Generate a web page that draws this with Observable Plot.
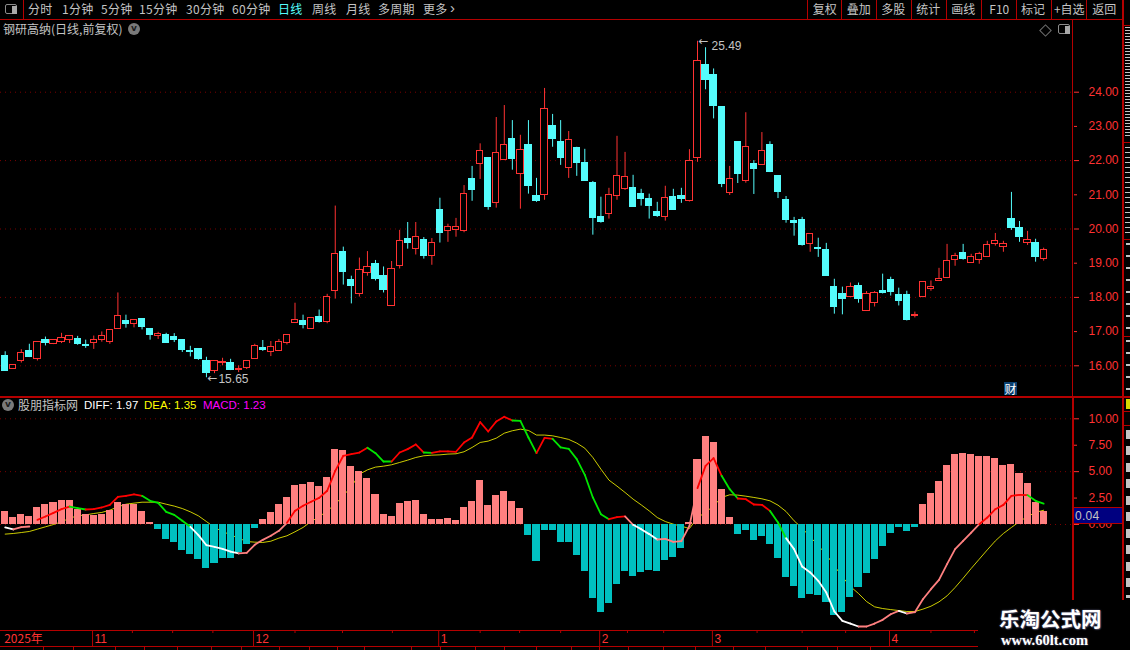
<!DOCTYPE html>
<html lang="zh">
<head>
<meta charset="utf-8">
<title>钢研高纳 日线</title>
<script src="https://cdn.jsdelivr.net/npm/d3@7"></script>
<script src="https://cdn.jsdelivr.net/npm/@observablehq/plot@0.6"></script>
<style>
html,body{margin:0;padding:0;background:#000;width:1130px;height:650px;overflow:hidden}
#app{position:relative;width:1130px;height:650px;background:#000;overflow:hidden;font:12px "Noto Sans CJK SC","Liberation Sans",sans-serif;color:#c4c4c4}
#app>*{position:absolute}
#app svg{display:block;background:transparent}
.t{white-space:nowrap;line-height:14px}
.c{transform:translateX(-50%)}
</style>
</head>
<body>
<div id="app"></div>
<script>
// ---------- price data (yuan) ----------
const openP = [16.29,15.91,16.14,16.42,16.20,16.75,16.65,16.70,16.76,16.77,16.60,16.67,16.76,16.69,17.08,17.31,17.23,17.36,17.07,16.88,
16.89,16.85,16.75,16.43,16.48,16.13,15.84,16.09,16.07,15.88,15.93,16.20,16.51,16.40,16.44,16.68,17.25,17.30,17.08,17.42,
17.28,18.19,19.32,18.51,18.11,18.72,18.97,18.62,17.76,18.92,19.70,19.42,19.67,19.22,20.55,19.95,19.97,19.95,21.45,21.90,
22.07,20.76,22.02,22.62,21.61,22.47,20.96,21.00,23.00,22.53,21.78,22.36,21.92,21.34,20.34,20.44,20.97,21.17,21.19,21.02,
20.87,20.49,20.35,20.93,20.96,20.83,22.07,24.80,24.50,23.57,21.05,22.55,21.40,21.91,21.86,22.47,21.56,20.86,20.22,20.25,
19.56,19.44,19.38,18.30,18.10,18.01,18.33,17.61,17.84,18.18,18.50,18.07,18.07,17.47,18.02,18.25,18.49,18.57,19.10,19.29,
19.02,19.10,19.18,19.57,19.46,20.28,20.02,19.59,19.58,19.13];
const closeP = [15.86,16.03,16.38,16.27,16.71,16.67,16.74,16.82,16.88,16.64,16.58,16.76,16.88,17.06,17.47,17.22,17.35,17.13,16.89,16.94,
16.66,16.76,16.46,16.41,16.19,15.78,16.15,16.11,15.89,15.90,16.15,16.59,16.46,16.56,16.71,16.91,17.35,17.20,17.41,17.27,
18.00,19.28,18.74,18.33,18.79,18.88,18.54,18.21,18.82,19.66,19.59,19.78,19.21,19.58,19.88,20.07,20.07,21.01,21.13,22.29,
20.64,22.23,22.47,22.04,22.32,21.25,20.81,23.52,22.62,22.07,22.61,21.92,21.39,20.32,20.20,20.98,21.56,21.53,20.64,20.87,
20.67,20.37,20.92,20.55,20.87,21.99,24.90,24.36,23.60,21.33,21.47,21.62,22.40,21.74,22.28,21.68,21.07,20.25,20.17,19.52,
19.86,19.41,18.62,17.72,17.95,18.29,17.95,18.09,18.12,18.13,18.16,17.89,17.34,17.50,18.44,18.29,18.53,19.05,19.22,19.12,
19.17,19.28,19.54,19.66,19.57,20.02,19.76,19.69,19.17,19.40];
const highP = [16.41,16.03,16.47,16.63,16.71,16.84,16.76,16.95,16.88,16.86,16.75,16.87,16.99,17.06,18.13,17.48,17.35,17.36,17.07,16.98,
16.95,16.94,16.76,16.57,16.49,16.25,16.15,16.22,16.19,16.00,16.15,16.63,16.74,16.71,16.77,16.91,17.83,17.48,17.41,17.63,
18.09,20.67,19.47,18.62,19.15,19.34,19.08,18.89,19.05,19.96,20.19,20.19,19.75,19.72,20.90,20.14,20.31,21.27,21.83,22.49,
22.09,23.26,23.61,23.17,22.74,23.17,21.48,24.11,23.35,23.17,22.85,22.39,22.33,21.39,20.93,21.19,22.71,22.24,21.57,21.16,
21.02,20.78,21.25,21.16,21.19,22.32,25.49,25.30,24.68,23.57,21.83,22.55,23.40,22.00,22.82,22.55,21.56,20.95,20.34,20.34,
19.86,19.73,19.58,18.53,18.30,18.42,18.42,18.17,18.17,18.68,18.59,18.27,18.18,17.57,18.44,18.48,18.85,19.55,19.29,19.55,
19.26,19.32,19.64,19.87,19.64,21.07,20.22,19.93,19.70,19.44];
const lowP = [15.86,15.91,16.08,16.24,16.14,16.58,16.62,16.65,16.65,16.60,16.51,16.48,16.69,16.63,17.08,17.10,17.11,17.05,16.75,16.77,
16.66,16.68,16.39,16.26,16.16,15.65,15.77,16.00,15.86,15.80,15.89,16.20,16.42,16.27,16.42,16.61,17.25,17.08,17.08,17.25,
17.23,17.95,18.36,17.81,18.01,18.62,18.48,18.13,17.76,18.83,19.41,19.24,19.12,18.94,19.59,19.61,19.76,19.89,20.81,21.45,
20.55,20.61,22.00,21.72,20.58,21.02,20.78,20.84,22.39,21.86,21.48,21.54,21.39,19.82,20.17,20.29,20.84,21.13,20.64,20.67,
20.29,20.34,20.23,20.55,20.75,20.79,21.95,24.07,23.22,21.21,20.98,21.33,21.34,21.01,21.86,21.65,20.89,20.17,19.79,19.50,
19.32,19.17,18.62,17.51,17.49,18.01,17.83,17.61,17.72,18.10,18.04,17.75,17.31,17.40,17.99,18.18,18.49,18.55,18.91,19.09,
19.01,18.97,19.18,19.50,19.32,19.96,19.61,19.52,19.03,19.06];

// ---------- indicator data ----------
const macdBar = [1.20,0.63,0.91,0.73,1.58,1.86,2.05,2.24,2.24,1.40,0.91,0.82,0.91,1.29,2.05,1.86,1.86,1.20,0.16,-0.50,
-1.45,-1.74,-2.49,-2.87,-3.34,-4.20,-3.72,-3.25,-3.25,-2.68,-1.92,-0.41,0.44,1.10,1.86,2.52,3.66,3.75,3.94,3.56,
4.42,7.07,6.97,5.46,4.98,4.32,2.81,0.91,0.73,1.96,2.15,2.24,0.91,0.44,0.44,0.54,0.35,1.58,2.15,4.13,
1.77,2.71,3.09,2.15,1.48,-1.07,-3.53,-0.60,-0.60,-1.74,-1.74,-2.97,-4.48,-7.03,-8.36,-7.50,-5.70,-4.48,-4.95,-4.57,
-4.38,-4.48,-3.44,-3.15,-2.30,0.20,6.12,8.30,7.73,3.28,0.63,-0.95,-0.60,-1.55,-1.17,-1.92,-3.25,-5.05,-5.90,-7.03,
-6.66,-6.75,-7.41,-8.64,-8.36,-6.94,-5.99,-4.67,-3.34,-2.11,-0.88,-0.32,-0.69,-0.32,1.86,2.90,4.04,5.55,6.59,6.69,
6.59,6.40,6.40,6.21,5.55,5.65,4.79,3.85,2.05,1.20];
const diff = [-0.28,-0.47,-0.25,-0.19,0.44,0.76,1.10,1.45,1.70,1.55,1.42,1.45,1.61,1.86,2.62,2.71,2.84,2.71,2.24,2.05,
1.20,0.91,0.35,-0.22,-1.01,-1.96,-2.11,-2.30,-2.56,-2.74,-2.68,-1.92,-1.45,-1.07,-0.60,0.16,1.29,1.77,2.15,2.52,
3.19,5.08,6.50,6.66,6.81,7.26,6.75,5.96,5.96,6.81,7.13,7.57,6.81,6.78,6.91,6.91,6.88,7.76,8.23,9.69,
8.80,9.75,10.19,9.84,9.81,8.23,6.75,8.20,8.11,7.29,7.16,6.18,4.70,2.56,0.98,0.50,0.69,0.76,-0.03,-0.44,
-0.91,-1.42,-1.36,-1.64,-1.58,-0.13,3.44,5.55,6.28,4.61,3.34,2.46,2.40,1.89,1.86,1.29,0.19,-1.29,-2.33,-3.98,
-4.54,-5.33,-6.44,-8.23,-9.12,-9.37,-9.65,-9.65,-9.37,-9.02,-8.49,-8.17,-8.42,-8.30,-7.07,-6.12,-5.24,-3.75,-2.33,-1.55,
-0.76,0.03,0.66,1.45,1.86,2.71,2.81,2.78,2.24,1.97];
const dea = [-0.91,-0.85,-0.76,-0.66,-0.44,-0.22,0,0.25,0.60,0.82,0.91,1.04,1.14,1.36,1.67,1.92,2.02,2.11,2.11,2.11,
1.92,1.74,1.51,1.20,0.82,0.28,-0.28,-0.66,-0.98,-1.29,-1.61,-1.67,-1.70,-1.58,-1.29,-1.07,-0.69,-0.28,0.28,0.73,
1.29,1.92,2.74,3.57,4.76,5.17,5.43,5.52,5.65,5.87,6.09,6.34,6.50,6.56,6.59,6.66,6.69,6.88,7.29,7.76,
7.89,8.17,8.64,8.87,9.02,8.90,8.46,8.46,8.39,8.23,8.05,7.70,7.22,6.34,5.24,4.20,3.63,3.03,2.40,1.86,
1.29,0.66,0.28,0.03,-0.16,-0.38,0.66,1.14,1.77,2.56,2.81,2.78,2.68,2.56,2.43,2.24,1.83,1.23,0.35,-0.35,
-1.17,-1.99,-2.84,-3.91,-4.95,-5.87,-6.53,-7.29,-7.79,-7.95,-8.05,-8.14,-8.23,-8.23,-8.01,-7.73,-7.32,-6.75,-5.96,-5.08,
-4.16,-3.28,-2.40,-1.55,-0.85,-0.28,0.28,0.76,1.14,1.35];
// tone of the DIFF segment that ends at each index (- = no segment)
const diffTone = "WWPP- RRRR GG RRRRRRR GGGGGG WWWWWW PPPPPP RRRRRRRRRR GGG RRRR G RRRRRRRRRR GGG RR GGGGGGG RR P WWW PPPPP RRR GG RRRR GG WWWWWWWWW PPPPP W PPPPPPPPP RRRRRR GG".replace(/ /g,"");
const toneColor = {R:"#ff0000",G:"#00e600",W:"#ffffff",P:"#ff8080"};

// ---------- axes ----------
const priceMajor = [24,22,20,18,16];
const priceMinor = [23,21,19,17];
const macdMajor = [10,5,0];
const macdMinor = [7.5,2.5];
const monthTicks = [{i:10.85,label:"11"},{i:30.85,label:"12"},{i:53.85,label:"1"},{i:73.85,label:"2"},{i:87.85,label:"3"},{i:109.85,label:"4"}];
const weekTicks = [15.8,20.8,25.8,36,41.9,48.1,59,63.9,69,77.3,81.8,93.4,99,104.4,115,120.4];
const highMark = [{i:86,p:25.49,label:"25.49"}];
const lowMark = [{i:25,p:15.65,label:"15.65"}];

// ---------- text ----------
const leftTabs = [["分时",28],["1分钟",62],["5分钟",101],["15分钟",139],["30分钟",186],["60分钟",232],["日线",278],["周线",312],["月线",346],["多周期",378],["更多",423]];
const rightTabs = [["复权",824.7],["叠加",858.7],["多股",893.3],["统计",928.3],["画线",963.3],["F10",999.3],["标记",1033],["+自选",1069.3],["返回",1104.3]];
const rightSeps = [807,841,876,911,946,981,1016,1051,1086];
const bottomSeps = [43,73,115,144,177,211,241,279,309,337,364,411,440,475,504,536,571,599,628,663,695,733,765,807,837,870];

const RED="#ff3232", CYAN="#54fcfc", LINE="#b40000", GRID="#7a0000";
const idx = d3.range(openP.length);
const xScale = {domain:[0,129],range:[4.7,1043.15],axis:null};
const app = document.getElementById("app");
function place(node,left,top){node.style.left=left+"px";node.style.top=top+"px";app.appendChild(node);return node;}
function div(left,top,w,h,bg){const d=document.createElement("div");d.style.width=w+"px";d.style.height=h+"px";d.style.background=bg;return place(d,left,top);}
function text(s,left,top,css){const d=document.createElement("div");d.className="t";d.textContent=s;if(css)d.style.cssText=css;return place(d,left,top);}
const digit='font-family:"Liberation Sans",sans-serif;';

// ---------- candlestick panel ----------
const isUp = i => closeP[i] >= openP[i];
const colorOf = i => isUp(i) ? RED : CYAN;
const priceFmt = d => d.toFixed(2);
const gray = {fill:"#c4c4c4",fontSize:12,fontFamily:"Liberation Sans"};
const candle = Plot.plot({
  width:1130,height:397,marginTop:0,marginBottom:0,marginLeft:0,marginRight:57,
  style:{background:"transparent"},
  x:xScale,
  y:{domain:[16,24],range:[365.3,91.7]},
  marks:[
    Plot.ruleY(priceMajor,{stroke:GRID,strokeDasharray:"1,4"}),
    Plot.ruleX(idx,{x:i=>i,y1:i=>lowP[i],y2:i=>highP[i],stroke:colorOf,strokeWidth:1}),
    Plot.rect(idx,{x1:i=>i-0.39,x2:i=>i+0.39,y1:i=>openP[i],y2:i=>closeP[i],
      fill:i=>isUp(i)?"#000":CYAN,stroke:colorOf,strokeWidth:1,shapeRendering:"crispEdges"}),
    Plot.text(highMark,{x:"i",y:"p",text:"label",dx:14,dy:5,textAnchor:"start",...gray}),
    Plot.text(lowMark,{x:"i",y:"p",text:"label",dx:12,dy:1,textAnchor:"start",...gray}),
    Plot.text([...highMark,...lowMark],{x:"i",y:"p",text:()=>"←",dx:6,textAnchor:"middle",fill:"#c4c4c4",fontSize:12,fontFamily:"DejaVu Sans"}),
    Plot.axisY(priceMajor,{anchor:"right",tickSize:5,tickPadding:10,tickFormat:priceFmt,color:RED,fontSize:12,fontFamily:"Liberation Sans",label:null}),
    Plot.axisY(priceMinor,{anchor:"right",tickSize:3,tickPadding:12,tickFormat:priceFmt,color:RED,fontSize:12,fontFamily:"Liberation Sans",label:null})
  ]
});
place(candle,0,0);

// ---------- MACD panel ----------
const segs = idx.slice(1).filter(i=>diffTone[i]!=="-");
const macd = Plot.plot({
  width:1130,height:233,marginTop:0,marginBottom:0,marginLeft:0,marginRight:57,
  style:{background:"transparent"},
  x:xScale,
  y:{domain:[0,10],range:[127,21.3]},
  marks:[
    Plot.ruleY(macdMajor,{stroke:GRID,strokeDasharray:"1,4"}),
    Plot.line(idx,{x:i=>i,y:i=>dea[i],stroke:"#ffff00",strokeWidth:0.8}),
    Plot.rect(idx,{x1:i=>i-0.44,x2:i=>i+0.44,y1:0,y2:i=>macdBar[i],fill:i=>macdBar[i]>=0?"#ff8080":"#00c0c0",shapeRendering:"crispEdges"}),
    Plot.link(segs,{x1:i=>i-1,y1:i=>diff[i-1],x2:i=>i,y2:i=>diff[i],stroke:i=>toneColor[diffTone[i]],strokeWidth:1.8,strokeLinecap:"round"}),
    Plot.axisY(macdMajor,{anchor:"right",tickSize:5,tickPadding:10,tickFormat:priceFmt,color:RED,fontSize:12,fontFamily:"Liberation Sans",label:null}),
    Plot.axisY(macdMinor,{anchor:"right",tickSize:3,tickPadding:12,tickFormat:priceFmt,color:RED,fontSize:12,fontFamily:"Liberation Sans",label:null})
  ]
});
place(macd,0,397);

// ---------- time axis ----------
const timeAxis = Plot.plot({
  width:978,height:17,marginTop:0,marginBottom:0,marginLeft:0,marginRight:0,
  style:{background:"transparent"},
  x:xScale,
  marks:[
    Plot.ruleX(monthTicks,{x:"i",stroke:LINE}),
    Plot.ruleX(weekTicks,{x:d=>d,stroke:LINE,insetBottom:14}),
    Plot.text(monthTicks,{x:"i",text:"label",dx:2,textAnchor:"start",fill:RED,fontSize:12,fontFamily:"Liberation Sans"}),
    Plot.text(["2025年"],{x:()=>0,text:d=>d,dx:-1,textAnchor:"start",fill:RED,fontSize:12,fontFamily:"Noto Sans CJK SC"})
  ]
});
place(timeAxis,0,630);

// ---------- chrome ----------
div(0,19,1123,1,LINE);
div(0,396,1123,2,LINE);
div(0,630,978,1,LINE);
div(0,646,978,1,LINE);
bottomSeps.forEach(x=>div(x,647,1,3,LINE));
div(1072,20,1,377,LINE);
div(1072,397,2,203,LINE);
div(1122,0,2,600,LINE);
div(23,0,1,19,LINE);
rightSeps.forEach(x=>div(x,0,1,19,LINE));

// toolbar
leftTabs.forEach(([s,x])=>text(s,x,2,"font-size:12px;letter-spacing:0.3px;color:"+(s==="日线"?"#54fcfc":"#c4c4c4")));
text("›",450,1,"font-size:15px;color:#c4c4c4;"+digit);
rightTabs.forEach(([s,x])=>{const n=text(s,x,2,"font-size:12px;color:#c4c4c4");n.classList.add("c");});
// split-panel icons
function panelIcon(x,y){
  const a=div(x,y,10,8,"#000");a.style.border="1.5px solid #8c8c8c";a.style.borderRadius="2px";
  div(x+6.5,y+1.5,5,8,"#a8a8a8");
}
panelIcon(5,4);panelIcon(1058,24);
const dia=div(1040.5,25.5,7,7,"#000");dia.style.border="1px solid #707070";dia.style.transform="rotate(45deg)";

// titles
text("钢研高纳(日线,前复权)",3,22,"font-size:12px;color:#c4c4c4");
function chevron(x,y){
  const c=div(x,y,12,12,"#7a7a7a");c.style.borderRadius="50%";
  c.style.color="#1c1c1c";c.style.font="bold 9px/11px 'DejaVu Sans'";c.style.textAlign="center";c.textContent="v";
}
chevron(128,23);chevron(2,399);
text("股朋指标网",18,398,"font-size:12px;color:#c4c4c4");
text("DIFF: 1.97",84,398,digit+"font-size:11.5px;color:#fff");
text("DEA: 1.35",144,398,digit+"font-size:11.5px;color:#ffff00");
text("MACD: 1.23",203,398,digit+"font-size:11.5px;color:#ff00ff");

// current-value tag
const tag=div(1074,507,48,15,"#000080");
tag.style.borderTop="1px solid "+LINE;tag.style.borderBottom="1px solid "+LINE;
text("0.04",1075,508.5,digit+"font-size:12px;color:#c4c4c4;letter-spacing:.3px");

// 财 marker
const cai=div(1004,382,13,13,"#0a4070");
cai.style.color="#fff";cai.style.font='12px/13px "Noto Sans CJK SC"';cai.style.textAlign="center";cai.textContent="财";

// clipped right-hand strip
[25,45,142,239,336,411,425].forEach(y=>div(1124,y,6,1,LINE));
div(1124,396,6,2,LINE);
div(1125,27,5,110,"repeating-linear-gradient(#c4c4c4 0 1px,#000 1px 3px)");
div(1125,147,5,88,"repeating-linear-gradient(#c4c4c4 0 1px,#000 1px 5px)");
div(1126,243,4,88,"repeating-linear-gradient(#c4c4c4 0 2px,#000 2px 12px)");
div(1126,340,4,52,"repeating-linear-gradient(#c4c4c4 0 2px,#000 2px 12px)");
div(1126,399,4,10,"#d8d800");
div(1126,430,4,168,"repeating-linear-gradient(#c4c4c4 0 9px,#000 9px 16.5px)");

// watermark
text("乐淘公式网",999,605,'font:bold 20.5px/26px "Noto Sans CJK SC";color:#fff;text-shadow:0 0 2px #668,1px 1px 1px #334');
text("www.60lt.com",1001,632,'font:bold 14.5px/16px "Liberation Serif";color:#fff;text-shadow:0 0 2px #668');
</script>
</body>
</html>
